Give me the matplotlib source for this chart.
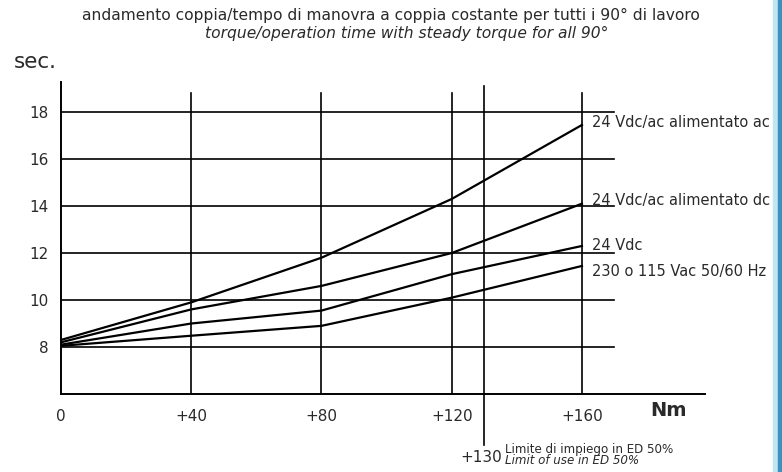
import matplotlib
matplotlib.use("Agg")
import matplotlib.pyplot as plt
from matplotlib.patches import Rectangle

plt.rcParams["font.family"] = ["DejaVu Sans"]

# torque (Nm) and operation time (sec.)
torque = [0, 40, 80, 120, 160]
t_ac_supplied = [8.3, 9.9, 11.8, 14.3, 17.45]
t_dc_supplied = [8.2, 9.6, 10.6, 12.0, 14.1]
t_24vdc = [8.1, 9.0, 9.55, 11.1, 12.3]
t_230_115 = [8.05, 8.48, 8.9, 10.1, 11.45]

series = [t_ac_supplied, t_dc_supplied, t_24vdc, t_230_115]
labels = ["24 Vdc/ac alimentato ac", "24 Vdc/ac alimentato dc",
          "24 Vdc", "230 o 115 Vac 50/60 Hz"]
label_y = [17.55, 14.25, 12.3, 11.2]

yticks = [8, 10, 12, 14, 16, 18]
xticks = [0, 40, 80, 120, 160]
xticklabels = ["0", "+40", "+80", "+120", "+160"]
limit_torque = 130

fig = plt.figure(figsize=(7.82, 4.72), dpi=100)
ax = fig.add_axes([61 / 782, 78 / 472, 644 / 782, 312.5 / 472])
ax.set_xlim(0, 197.8)
ax.set_ylim(6, 19.3)

txt = "#2a2a2a"
# grid, drawn by hand so the lines stop where the original ones do
for y in yticks:
    ax.plot([0, 170], [y, y], color="black", lw=1.2, zorder=1)
for x in xticks[1:]:
    ax.plot([x, x], [6, 18.8], color="black", lw=1.2, zorder=1)
ax.plot([limit_torque, limit_torque], [3.85, 19.1], color="black", lw=1.2,
        zorder=1, clip_on=False)

for s in series:
    ax.plot(torque, s, color="black", lw=1.6, zorder=3)
for lab, ly in zip(labels, label_y):
    ax.text(163, ly, lab, fontsize=10.5, color=txt, va="center", ha="left",
            clip_on=False)

for side in ["top", "right"]:
    ax.spines[side].set_visible(False)
for side in ["left", "bottom"]:
    ax.spines[side].set_linewidth(1.4)

ax.set_yticks(yticks)
ax.set_yticklabels([str(v) for v in yticks], fontsize=11, color=txt)
ax.set_xticks(xticks)
ax.set_xticklabels(xticklabels, fontsize=11, color=txt)
ax.tick_params(length=0)
ax.tick_params(axis="y", pad=9)
ax.tick_params(axis="x", pad=11)

fig.text(650 / 782, 1 - 410 / 472, "Nm", fontsize=14, fontweight="bold",
         color=txt, ha="left", va="center")
fig.text(14 / 782, 1 - 62 / 472, "sec.", fontsize=15.5, color=txt,
         ha="left", va="center")
fig.text(391 / 782, 1 - 15 / 472,
         "andamento coppia/tempo di manovra a coppia costante per tutti i 90° di lavoro",
         fontsize=11.2, color=txt, ha="center", va="center")
fig.text(407 / 782, 1 - 33 / 472,
         "torque/operation time with steady torque for all 90°",
         fontsize=11.2, style="italic", color=txt, ha="center", va="center")
fig.text(481 / 782, 1 - 457 / 472, "+130", fontsize=11, color=txt,
         ha="center", va="center")
fig.text(505 / 782, 1 - 449 / 472, "Limite di impiego in ED 50%",
         fontsize=8.6, color=txt, ha="left", va="center")
fig.text(505 / 782, 1 - 461 / 472, "Limit of use in ED 50%",
         fontsize=8.6, style="italic", color=txt, ha="left", va="center")

# thin blue frame edge on the right of the scanned picture
fig.patches.append(Rectangle((773 / 782, 0), 5 / 782, 1, transform=fig.transFigure,
                             color="#bfe6f3", zorder=0))
fig.patches.append(Rectangle((778 / 782, 0), 4 / 782, 1, transform=fig.transFigure,
                             color="#3f8fbf", zorder=0))

fig.savefig("out.png", dpi=100)
